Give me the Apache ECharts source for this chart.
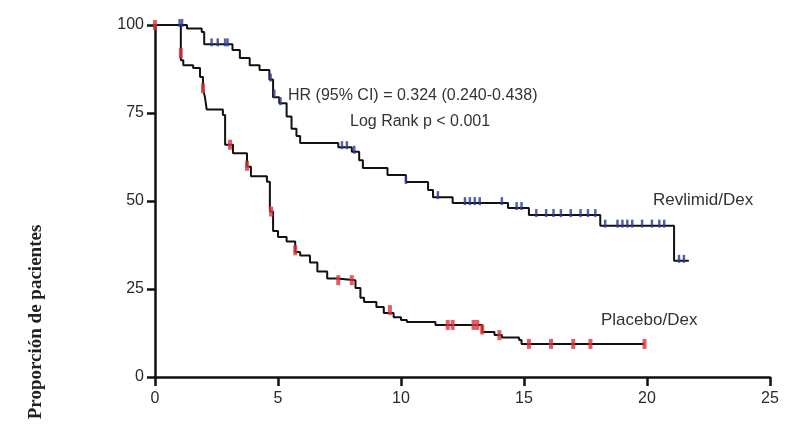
<!DOCTYPE html>
<html>
<head>
<meta charset="utf-8">
<script src="https://cdn.jsdelivr.net/npm/echarts@6/dist/echarts.min.js"></script>
<style>
  html, body { margin: 0; padding: 0; background: #fff; }
  #chart { width: 785px; height: 432px; }
</style>
</head>
<body>
<div id="chart"></div>
<script>
// tick labels
const xTicks = [0, 5, 10, 15, 20, 25]
const yTicks = [0, 25, 50, 75, 100]

// Revlimid/Dex curve (months, % after event)
const revTime = [0, 1.3, 1.9, 2.0, 3.15, 3.45, 3.85, 4.25, 4.65, 4.8, 5.05, 5.35, 5.55, 5.75, 5.9, 7.45, 8.0, 8.3, 8.45, 9.45, 10.2, 11.1, 11.3, 12.1, 14.35, 15.2, 18.1, 21.1, 21.7]
const revSurv = [100, 99, 98, 94.5, 92.9, 90.6, 88.6, 87.2, 84.5, 79.5, 77.8, 74, 70.5, 68.5, 66.5, 65.3, 64, 61.6, 59.4, 57.4, 55.4, 53.1, 51.1, 49.4, 48, 46, 43, 33, 33]
const revCensorTime = [1.0, 1.1, 2.3, 2.55, 2.85, 2.95, 4.7, 4.85, 5.1, 7.6, 7.8, 8.1, 10.2, 11.5, 12.6, 12.8, 13.0, 13.2, 14.1, 14.7, 14.9, 15.5, 15.9, 16.2, 16.5, 16.9, 17.3, 17.6, 17.9, 18.3, 18.8, 19.0, 19.2, 19.4, 19.8, 20.2, 20.5, 20.7, 21.3, 21.5]
const revCensorSurv = [100, 100, 94.5, 94.5, 94.5, 94.5, 84.5, 80, 77.8, 65.3, 65.3, 64, 55.4, 51.1, 49.4, 49.4, 49.4, 49.4, 49.4, 48, 48, 46, 46, 46, 46, 46, 46, 46, 46, 43, 43, 43, 43, 43, 43, 43, 43, 43, 33, 33]

// Placebo/Dex curve
const plaTime = [0, 1.05, 1.15, 1.55, 1.83, 1.95, 2.03, 2.1, 2.76, 2.85, 3.17, 3.74, 3.9, 4.55, 4.67, 4.8, 5.0, 5.35, 5.7, 5.9, 6.3, 6.6, 7.0, 7.4, 8.15, 8.35, 8.5, 9.0, 9.3, 9.7, 10.0, 10.24, 11.4, 13.3, 13.8, 14.1, 14.8, 14.9, 19.9]
const plaSurv = [100, 90, 88.6, 87.8, 85.2, 82, 79.5, 76, 74.4, 66, 63.6, 59.7, 57, 55.5, 47, 41.5, 39.8, 38.5, 35.5, 34.5, 32.5, 30, 28, 27.5, 25.3, 22.5, 21.3, 19.9, 18.2, 17, 16.2, 15.6, 14.8, 12.8, 11.9, 11.2, 10.5, 9.4, 9.4]
const plaCensorTime = [0, 1.05, 1.95, 3.05, 3.74, 4.72, 5.7, 7.45, 8.0, 9.55, 11.9, 12.1, 12.95, 13.1, 13.3, 14.0, 15.2, 16.1, 17.0, 17.7, 19.9]
const plaCensorSurv = [100, 92, 82, 66, 60, 47, 36, 27.5, 27.5, 19, 14.8, 14.8, 14.8, 14.8, 13.5, 11.9, 9.4, 9.4, 9.4, 9.4, 9.4]

const zip = (a, b) => a.map((v, i) => [v, b[i]])

const chart = echarts.init(document.getElementById('chart'))

const sans = '"Liberation Sans", Arial, sans-serif'
const axisText = { color: '#2a2a2a', fontFamily: sans, fontSize: 16 }

chart.setOption({
  backgroundColor: '#fff',
  animation: false,
  grid: { left: 155, right: 15, top: 25, bottom: 55 },
  xAxis: {
    type: 'value',
    min: 0, max: 25, interval: 5,
    axisLine: { lineStyle: { color: '#111', width: 2.5 } },
    axisTick: { length: 9, lineStyle: { color: '#111', width: 2.5 } },
    axisLabel: Object.assign({ margin: 14, formatter: v => xTicks.includes(v) ? String(v) : '' }, axisText),
    splitLine: { show: false }
  },
  yAxis: {
    type: 'value',
    min: 0, max: 100, interval: 25,
    axisLine: { show: true, lineStyle: { color: '#111', width: 2.5 } },
    axisTick: { show: true, length: 8, lineStyle: { color: '#111', width: 2.5 } },
    axisLabel: Object.assign({ margin: 11, formatter: v => yTicks.includes(v) ? String(v) : '' }, axisText),
    splitLine: { show: false }
  },
  series: [
    {
      name: 'Revlimid/Dex',
      type: 'line',
      step: 'end',
      symbol: 'none',
      lineStyle: { color: '#111', width: 2 },
      data: zip(revTime, revSurv),
      z: 2
    },
    {
      name: 'Placebo/Dex',
      type: 'line',
      step: 'end',
      symbol: 'none',
      lineStyle: { color: '#111', width: 2 },
      data: zip(plaTime, plaSurv),
      z: 2
    },
    {
      name: 'Revlimid censor',
      type: 'scatter',
      symbol: 'rect',
      symbolSize: [2.5, 8],
      symbolOffset: [0, -2],
      itemStyle: { color: '#2a3b96' },
      data: zip(revCensorTime, revCensorSurv),
      z: 3
    },
    {
      name: 'Placebo censor',
      type: 'scatter',
      symbol: 'rect',
      symbolSize: [4, 10],
      itemStyle: { color: '#e0333d' },
      data: zip(plaCensorTime, plaCensorSurv),
      z: 3
    }
  ],
  graphic: [
    {
      type: 'text', left: 288, top: 88,
      style: { text: 'HR (95% CI) = 0.324 (0.240-0.438)', fill: '#333', font: '16px ' + sans }
    },
    {
      type: 'text', left: 350, top: 114,
      style: { text: 'Log Rank p < 0.001', fill: '#333', font: '16px ' + sans }
    },
    {
      type: 'text', left: 653, top: 192,
      style: { text: 'Revlimid/Dex', fill: '#333', font: '17px ' + sans }
    },
    {
      type: 'text', left: 601, top: 312,
      style: { text: 'Placebo/Dex', fill: '#333', font: '17px ' + sans }
    },
    {
      type: 'text', x: 36, y: 322, rotation: Math.PI / 2,
      style: { text: 'Proporción de pacientes', fill: '#222', font: 'bold 19px "Liberation Serif", "Times New Roman", serif', align: 'center', verticalAlign: 'middle' }
    }
  ]
})
</script>
</body>
</html>
